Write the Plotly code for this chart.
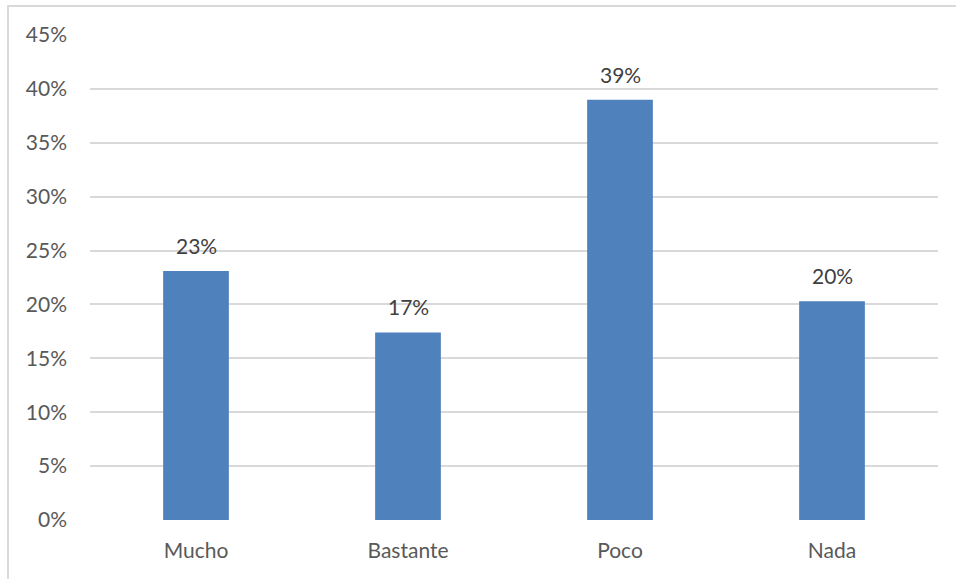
import plotly.graph_objects as go

categories = ["Mucho", "Bastante", "Poco", "Nada"]
values = [0.231, 0.174, 0.390, 0.203]
labels = ["23%", "17%", "39%", "20%"]
tick_vals = [0, 0.05, 0.10, 0.15, 0.20, 0.25, 0.30, 0.35, 0.40, 0.45]
tick_text = ["0%", "5%", "10%", "15%", "20%", "25%", "30%", "35%", "40%", "45%"]

FONT = "Lato, 'Open Sans', sans-serif"
TXT = "#595959"
FS = 21

fig = go.Figure()
fig.add_trace(go.Bar(x=categories, y=values, marker=dict(color="#4f81bd", line=dict(width=0)),
                     hoverinfo="skip"))

for c, v, t in zip(categories, values, labels):
    fig.add_annotation(x=c, y=v, text=t, showarrow=False, yanchor="bottom", yshift=11,
                       font=dict(family=FONT, size=FS, color="#404040"))

fig.add_shape(type="rect", xref="paper", yref="paper", x0=-0.0967, x1=1.2, y0=-0.3, y1=1.0598,
              line=dict(color="#d9d9d9", width=2), fillcolor="rgba(0,0,0,0)", layer="below")

fig.update_layout(
    width=956, height=579,
    margin=dict(l=90, r=18, t=35, b=59),
    paper_bgcolor="white", plot_bgcolor="white",
    showlegend=False, bargap=0.69,
    font=dict(family=FONT, size=FS, color=TXT),
    xaxis=dict(showgrid=False, showline=False, ticks="", zeroline=False,
               tickfont=dict(family=FONT, size=FS, color=TXT), ticklabelstandoff=16),
    yaxis=dict(range=[0, 0.45], tickvals=tick_vals, ticktext=tick_text, showgrid=True,
               gridcolor="#d9d9d9", gridwidth=1.5, zeroline=False, showline=False, ticks="",
               tickfont=dict(family=FONT, size=FS, color=TXT), ticklabelstandoff=22),
)

fig.write_html("out.html")
